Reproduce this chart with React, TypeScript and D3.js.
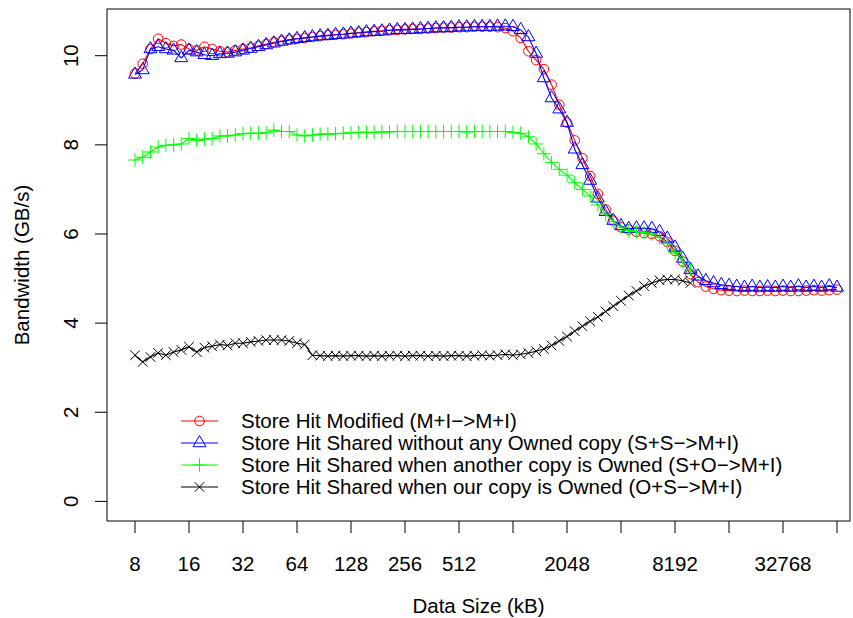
import * as d3 from 'd3'

const W = 853
const H = 618
const FONT = '"Liberation Sans", Arial, Helvetica, sans-serif'
const FS = 20.5

// sample sizes (kB): 7 steps per doubling, starting at 8 kB
const sizes = d3.range(92).map((i) => 8 * Math.pow(2, i / 7))

// Store Hit Modified (M+I->M+I)
const modified = [
  9.6, 9.82, 10.15, 10.38, 10.28, 10.22, 10.25,
  10.15, 10.12, 10.2, 10.15, 10.1, 10.08, 10.12,
  10.15, 10.18, 10.22, 10.26, 10.3, 10.33, 10.36,
  10.38, 10.4, 10.42, 10.44, 10.46, 10.47, 10.48,
  10.5, 10.52, 10.53, 10.55, 10.56, 10.57, 10.58,
  10.59, 10.6, 10.6, 10.61, 10.62, 10.63, 10.63,
  10.64, 10.64, 10.65, 10.65, 10.65, 10.64, 10.62,
  10.55, 10.4, 10.1, 9.9, 9.7, 9.35, 8.9,
  8.5, 8.1, 7.7, 7.3, 6.9, 6.55, 6.3,
  6.15, 6.1, 6.05, 6.02, 6.0, 5.95, 5.82,
  5.62, 5.38, 5.1, 4.92, 4.82, 4.77, 4.74,
  4.73, 4.72, 4.73, 4.72, 4.72, 4.73, 4.72,
  4.73, 4.72, 4.72, 4.73, 4.74, 4.73, 4.74, 4.75,
]

// Store Hit Shared without any Owned copy (S+S->M+I)
const sharedNoOwner = [
  9.58, 9.68, 10.15, 10.2, 10.15, 10.12, 9.95,
  10.12, 10.08, 10.02, 10.0, 10.04, 10.05, 10.08,
  10.12, 10.16, 10.2, 10.24, 10.28, 10.32, 10.35,
  10.38, 10.4, 10.42, 10.44, 10.45, 10.47, 10.48,
  10.5, 10.51, 10.53, 10.54, 10.55, 10.57, 10.58,
  10.58, 10.59, 10.6, 10.61, 10.62, 10.62, 10.63,
  10.64, 10.64, 10.65, 10.65, 10.65, 10.66, 10.66,
  10.65, 10.58, 10.42, 10.05, 9.5, 9.05, 8.8,
  8.5, 7.9, 7.55, 7.2, 6.8, 6.5, 6.3,
  6.18, 6.12, 6.13, 6.13, 6.12, 6.05, 5.9,
  5.7, 5.45, 5.2, 5.05, 4.95, 4.9, 4.86,
  4.84, 4.82, 4.8, 4.82, 4.8, 4.81, 4.8,
  4.82, 4.8, 4.83, 4.8, 4.82, 4.8, 4.83, 4.8,
]

// Store Hit Shared when another copy is Owned (S+O->M+I)
const sharedOtherOwned = [
  7.66, 7.72, 7.84, 7.95, 7.99, 8.0, 8.02,
  8.14, 8.1, 8.13, 8.14, 8.2, 8.2, 8.22,
  8.25, 8.26, 8.26, 8.27, 8.33, 8.3, 8.3,
  8.22, 8.2, 8.22, 8.24, 8.24, 8.25, 8.26,
  8.27, 8.28, 8.28, 8.28, 8.29, 8.29, 8.3,
  8.3, 8.3, 8.3, 8.3, 8.3, 8.3, 8.3,
  8.3, 8.29, 8.3, 8.3, 8.3, 8.3, 8.3,
  8.28, 8.26, 8.18, 8.02, 7.8, 7.6, 7.45,
  7.32, 7.15, 7.0, 6.85, 6.65, 6.45, 6.28,
  6.15, 6.08, 6.05, 6.04, 6.0, 5.92, 5.78,
  5.58, 5.38, 5.2,
]

// Store Hit Shared when our copy is Owned (O+S->M+I)
const sharedOurOwned = [
  3.28, 3.13, 3.24, 3.33, 3.28, 3.35, 3.4,
  3.47, 3.35, 3.45, 3.48, 3.52, 3.5, 3.55,
  3.55, 3.58, 3.6, 3.62, 3.62, 3.62, 3.6,
  3.55, 3.52, 3.28, 3.27, 3.26, 3.27, 3.26,
  3.27, 3.27, 3.26, 3.27, 3.26, 3.27, 3.27,
  3.26, 3.27, 3.27, 3.26, 3.27, 3.26, 3.27,
  3.27, 3.26, 3.27, 3.28, 3.27, 3.28, 3.3,
  3.28, 3.3, 3.33, 3.37, 3.42, 3.5, 3.6,
  3.7, 3.82, 3.93, 4.04, 4.14, 4.26, 4.38,
  4.5, 4.62, 4.72, 4.83, 4.9, 4.96, 4.98,
  4.98, 4.95, 4.9,
]

const seriesNames = [
  'Store Hit Modified (M+I\u2212>M+I)',
  'Store Hit Shared without any Owned copy (S+S\u2212>M+I)',
  'Store Hit Shared when another copy is Owned (S+O\u2212>M+I)',
  'Store Hit Shared when our copy is Owned (O+S\u2212>M+I)',
]
const seriesColors = ['#ff0000', '#0000ff', '#00ff00', '#000000']
const seriesPch = ['circle', 'triangle', 'plus', 'cross']
const seriesValues = [modified, sharedNoOwner, sharedOtherOwned, sharedOurOwned]

const xTicks = [8, 16, 32, 64, 128, 256, 512, 1024, 2048, 4096, 8192, 16384, 32768, 65536]
const xLabels = [8, 16, 32, 64, 128, 256, 512, 2048, 8192, 32768]
const yTicks = [0, 2, 4, 6, 8, 10]

const box = { left: 107, right: 850, top: 9, bottom: 521 }
const R0 = 4.8

function Marker({ pch, x, y, color }: { pch: string; x: number; y: number; color: string }) {
  if (pch === 'circle') {
    return <circle cx={x} cy={y} r={R0} fill="none" stroke={color} strokeWidth={1} />
  }
  if (pch === 'triangle') {
    const tc0 = 1.5551
    const r = tc0 * R0
    const xc = (tc0 * Math.sqrt(3)) / 2 * R0
    const yc = (tc0 / 2) * R0
    return (
      <polygon
        points={`${x},${y - r} ${x + xc},${y + yc} ${x - xc},${y + yc}`}
        fill="none"
        stroke={color}
        strokeWidth={1}
      />
    )
  }
  if (pch === 'plus') {
    const h = Math.SQRT2 * R0
    return (
      <path d={`M${x - h},${y}H${x + h}M${x},${y - h}V${y + h}`} stroke={color} strokeWidth={1} fill="none" />
    )
  }
  const h = R0
  return (
    <path d={`M${x - h},${y - h}L${x + h},${y + h}M${x - h},${y + h}L${x + h},${y - h}`} stroke={color} strokeWidth={1} fill="none" />
  )
}

export default function App() {
  const x = d3.scaleLog().base(2).domain([8, 65536]).range([135, 837])
  const y = d3.scaleLinear().domain([0, 10]).range([501.4, 55.7])

  const line = d3
    .line<number>()
    .x((_, i) => x(sizes[i]))
    .y((d) => y(d))

  const legendY = [421, 443, 465, 487]

  return (
    <svg
      width={W}
      height={H}
      style={{ position: 'absolute', left: 0, top: 0, background: '#fff' }}
      fontFamily={FONT}
      fontSize={FS}
    >
      <rect x={0} y={0} width={W} height={H} fill="#fff" />

      {/* series */}
      {seriesValues.map((vals, s) => (
        <g key={s}>
          <path d={line(vals) ?? ''} fill="none" stroke={seriesColors[s]} strokeWidth={1.1} />
          {vals.map((v, i) => (
            <Marker key={i} pch={seriesPch[s]} x={x(sizes[i])} y={y(v)} color={seriesColors[s]} />
          ))}
        </g>
      ))}

      {/* frame */}
      <rect
        x={box.left}
        y={box.top}
        width={box.right - box.left}
        height={box.bottom - box.top}
        fill="none"
        stroke="#000"
        strokeWidth={1}
      />

      {/* x axis */}
      {xTicks.map((t) => (
        <line key={t} x1={x(t)} x2={x(t)} y1={box.bottom} y2={box.bottom + 12} stroke="#000" />
      ))}
      {xLabels.map((t) => (
        <text key={t} x={x(t)} y={571} textAnchor="middle">
          {t}
        </text>
      ))}
      <text x={(box.left + box.right) / 2} y={613} textAnchor="middle">
        Data Size (kB)
      </text>

      {/* y axis */}
      {yTicks.map((t) => (
        <g key={t}>
          <line x1={box.left - 12} x2={box.left} y1={y(t)} y2={y(t)} stroke="#000" />
          <text transform={`translate(78,${y(t)}) rotate(-90)`} textAnchor="middle">
            {t}
          </text>
        </g>
      ))}
      <text transform={`translate(29,${(box.top + box.bottom) / 2}) rotate(-90)`} textAnchor="middle">
        Bandwidth (GB/s)
      </text>

      {/* legend */}
      {seriesNames.map((name, s) => (
        <g key={name}>
          <line x1={181} x2={218} y1={legendY[s]} y2={legendY[s]} stroke={seriesColors[s]} />
          <Marker pch={seriesPch[s]} x={199.5} y={legendY[s]} color={seriesColors[s]} />
          <text x={241} y={legendY[s]} dy="0.35em">
            {name}
          </text>
        </g>
      ))}
    </svg>
  )
}
